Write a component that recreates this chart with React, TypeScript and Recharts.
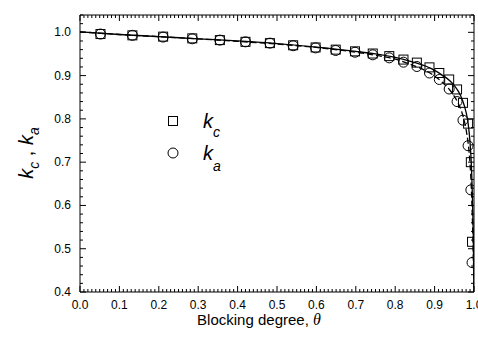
import React from 'react';
import { ComposedChart, Line, Scatter, XAxis, YAxis, Legend } from 'recharts';

// Measured points (blocking degree θ and the two coefficients)
const pointTheta = [0.052, 0.133, 0.211, 0.285, 0.355, 0.42, 0.482, 0.541, 0.598, 0.649, 0.698, 0.743, 0.785, 0.821, 0.855, 0.887, 0.912, 0.937, 0.957, 0.972, 0.985, 0.992, 0.995];
const kcPoints = [0.996, 0.993, 0.990, 0.986, 0.982, 0.978, 0.975, 0.970, 0.965, 0.960, 0.956, 0.951, 0.945, 0.937, 0.930, 0.919, 0.906, 0.891, 0.868, 0.837, 0.789, 0.700, 0.516];
const kaPoints = [0.996, 0.993, 0.989, 0.985, 0.982, 0.978, 0.975, 0.969, 0.964, 0.958, 0.954, 0.948, 0.941, 0.931, 0.921, 0.906, 0.891, 0.869, 0.840, 0.797, 0.738, 0.636, 0.468];

// Model curves
const curveTheta = [0, 0.1, 0.2, 0.3, 0.4, 0.5, 0.6, 0.7, 0.75, 0.8, 0.85, 0.88, 0.9, 0.92, 0.94, 0.95, 0.96, 0.97, 0.98, 0.985, 0.99, 0.993, 0.996, 0.998, 1.0];
const kcCurve = [1.001, 0.995, 0.990, 0.985, 0.980, 0.974, 0.966, 0.956, 0.950, 0.942, 0.930, 0.921, 0.912, 0.901, 0.887, 0.877, 0.864, 0.845, 0.815, 0.790, 0.745, 0.700, 0.620, 0.540, 0.400];
const kaCurve = [1.001, 0.995, 0.990, 0.985, 0.979, 0.973, 0.965, 0.954, 0.947, 0.938, 0.922, 0.910, 0.899, 0.884, 0.865, 0.852, 0.836, 0.813, 0.775, 0.745, 0.695, 0.645, 0.565, 0.490, 0.400];

const xTickLabels = ['0.0', '0.1', '0.2', '0.3', '0.4', '0.5', '0.6', '0.7', '0.8', '0.9', '1.0'];
const yTickLabels = ['0.4', '0.5', '0.6', '0.7', '0.8', '0.9', '1.0'];

const FONT = '"Liberation Sans", Arial, sans-serif';

const xTicks = Array.from({ length: 101 }, (_, i) => i / 100);
const yTicks = Array.from({ length: 33 }, (_, i) => Math.round((0.4 + i * 0.02) * 100) / 100);
const isXMajor = (v: number) => Math.round(v * 100) % 10 === 0;
const isYMajor = (v: number) => Math.round(v * 100) % 10 === 0 && yTickLabels.includes(v.toFixed(1));

const kcData = pointTheta.map((t, i) => ({ t, k: kcPoints[i] }));
const kaData = pointTheta.map((t, i) => ({ t, k: kaPoints[i] }));
const kcLine = curveTheta.map((t, i) => ({ t, k: kcCurve[i] }));
const kaLine = curveTheta.map((t, i) => ({ t, k: kaCurve[i] }));

const BottomTick = (p: any) => {
  const v = p.payload.value;
  const major = isXMajor(v);
  return (
    <g>
      <line x1={p.x} x2={p.x} y1={p.y} y2={p.y - (major ? 6 : 3)} stroke="#000" strokeWidth={1} />
      {major && (
        <text x={p.x} y={p.y + 17} textAnchor="middle" fontSize={12} fontFamily={FONT} fill="#000">
          {xTickLabels[Math.round(v * 10)]}
        </text>
      )}
    </g>
  );
};
const TopTick = (p: any) => {
  const major = isXMajor(p.payload.value);
  return <line x1={p.x} x2={p.x} y1={p.y} y2={p.y + (major ? 6 : 3)} stroke="#000" strokeWidth={1} />;
};
const LeftTick = (p: any) => {
  const v = p.payload.value;
  const major = isYMajor(v);
  return (
    <g>
      <line x1={p.x} x2={p.x + (major ? 6 : 3)} y1={p.y} y2={p.y} stroke="#000" strokeWidth={1} />
      {major && (
        <text x={p.x - 9} y={p.y + 4} textAnchor="end" fontSize={12} fontFamily={FONT} fill="#000">
          {v.toFixed(1)}
        </text>
      )}
    </g>
  );
};
const RightTick = (p: any) => {
  const major = isYMajor(p.payload.value);
  return <line x1={p.x} x2={p.x - (major ? 6 : 3)} y1={p.y} y2={p.y} stroke="#000" strokeWidth={1} />;
};

const SquareShape = (p: any) => (
  <rect x={p.cx - 4.5} y={p.cy - 4.5} width={9} height={9} fill="none" stroke="#000" strokeWidth={1} />
);
const CircleShape = (p: any) => <circle cx={p.cx} cy={p.cy} r={5} fill="none" stroke="#000" strokeWidth={1} />;

const renderLegend = () => (
  <svg width={90} height={72} style={{ display: 'block' }}>
    <rect x={8.5} y={10.5} width={9} height={9} fill="none" stroke="#000" strokeWidth={1} />
    <text x={43} y={22} fontFamily={FONT} fill="#000">
      <tspan fontSize={20} fontStyle="italic">k</tspan>
      <tspan fontSize={14} fontStyle="italic" dy={9}>c</tspan>
    </text>
    <circle cx={13} cy={47} r={5} fill="none" stroke="#000" strokeWidth={1} />
    <text x={43} y={54} fontFamily={FONT} fill="#000">
      <tspan fontSize={20} fontStyle="italic">k</tspan>
      <tspan fontSize={14} fontStyle="italic" dy={11}>a</tspan>
    </text>
  </svg>
);

const XTitle = () => (
  <text x={259} y={325} textAnchor="middle" fontFamily={FONT} fontSize={15} fill="#000">
    Blocking degree,{' '}
    <tspan fontFamily='"Liberation Serif", serif' fontStyle="italic" fontSize={16}>θ</tspan>
  </text>
);

const YTitle = () => (
  <text x={33} y={153} transform="rotate(-90 33 153)" textAnchor="middle" fontFamily={FONT} fill="#000">
    <tspan fontSize={20} fontStyle="italic">k</tspan>
    <tspan fontSize={14} fontStyle="italic" dy={6}>c</tspan>
    <tspan fontSize={20} dy={-6}> , </tspan>
    <tspan fontSize={20} fontStyle="italic">k</tspan>
    <tspan fontSize={14} fontStyle="italic" dy={6}>a</tspan>
  </text>
);

export default function App() {
  return (
    <div style={{ position: 'absolute', left: 0, top: 0, background: '#fff' }}>
      <ComposedChart width={478} height={340} margin={{ top: 14, right: 3, bottom: 0, left: 0 }}>
        <XAxis
          dataKey="t"
          type="number"
          domain={[0, 1]}
          ticks={xTicks}
          interval={0}
          tickSize={0}
          tickMargin={0}
          height={48}
          tick={<BottomTick />}
          axisLine={{ stroke: '#000', strokeWidth: 1 }}
          tickLine={false}
          allowDataOverflow
          label={{ content: () => <XTitle /> }}
        />
        <XAxis
          xAxisId="top"
          dataKey="t"
          type="number"
          orientation="top"
          domain={[0, 1]}
          ticks={xTicks}
          interval={0}
          tickSize={0}
          tickMargin={0}
          height={1}
          tick={<TopTick />}
          axisLine={{ stroke: '#000', strokeWidth: 1 }}
          tickLine={false}
          allowDataOverflow
        />
        <YAxis
          dataKey="k"
          type="number"
          domain={[0.4, 1.04]}
          ticks={yTicks}
          interval={0}
          tickSize={0}
          tickMargin={0}
          width={80}
          tick={<LeftTick />}
          axisLine={{ stroke: '#000', strokeWidth: 1 }}
          tickLine={false}
          allowDataOverflow
          label={{ content: () => <YTitle /> }}
        />
        <YAxis
          yAxisId="right"
          dataKey="k"
          type="number"
          orientation="right"
          domain={[0.4, 1.04]}
          ticks={yTicks}
          interval={0}
          tickSize={0}
          tickMargin={0}
          width={1}
          tick={<RightTick />}
          axisLine={{ stroke: '#000', strokeWidth: 1 }}
          tickLine={false}
          allowDataOverflow
        />
        <Legend
          layout="vertical"
          align="center"
          verticalAlign="middle"
          content={renderLegend}
          wrapperStyle={{ position: 'absolute', left: 160, top: 106, width: 90, height: 72 }}
        />
        {/* invisible series so the mirrored frame axes (top, right) are drawn */}
        <Line data={kcLine} dataKey="k" xAxisId="top" yAxisId="right" stroke="none" dot={false} activeDot={false} isAnimationActive={false} legendType="none" />
        <Line data={kcLine} dataKey="k" name="kc model" type="monotone" stroke="#000" strokeWidth={1.3} dot={false} isAnimationActive={false} legendType="none" />
        <Line data={kaLine} dataKey="k" name="ka model" type="monotone" stroke="#000" strokeWidth={1.3} strokeDasharray="6 3" dot={false} isAnimationActive={false} legendType="none" />
        <Scatter data={kcData} dataKey="k" name="kc" shape={<SquareShape />} isAnimationActive={false} />
        <Scatter data={kaData} dataKey="k" name="ka" shape={<CircleShape />} isAnimationActive={false} />
      </ComposedChart>
    </div>
  );
}
